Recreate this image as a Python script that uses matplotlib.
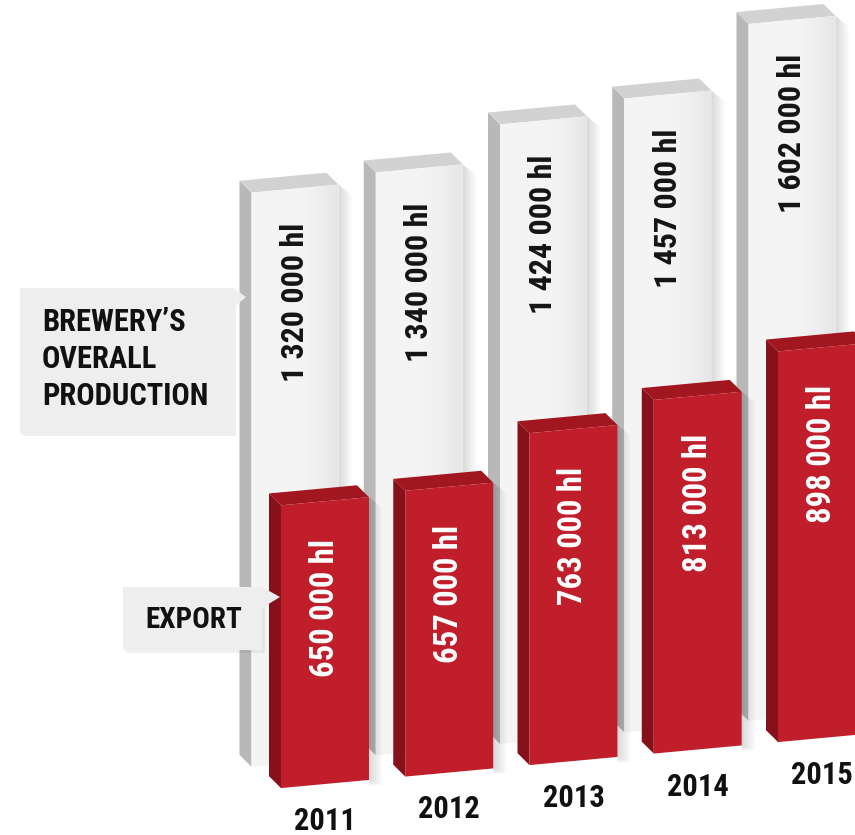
import matplotlib.pyplot as plt
import matplotlib.transforms as mtransforms
from matplotlib import font_manager as fm
from matplotlib.patches import Polygon, FancyBboxPatch
import numpy as np

# data
years = ['2011', '2012', '2013', '2014', '2015']
production = [1320000, 1340000, 1424000, 1457000, 1602000]
export = [650000, 657000, 763000, 813000, 898000]
production_labels = ['1 320 000 hl', '1 340 000 hl', '1 424 000 hl', '1 457 000 hl', '1 602 000 hl']
export_labels = ['650 000 hl', '657 000 hl', '763 000 hl', '813 000 hl', '898 000 hl']

# layout (pixels)
W, H = 855, 835
STEP = 124.25      # px between bars
X0 = 325           # px centre of first red bar
PX_PER_HL = 0.000435
BASE0 = 51         # px from the bottom to the first base


# narrowest bold font that is installed
def pick_font():
    for fam in ['Liberation Sans Narrow', 'Roboto Condensed', 'DejaVu Sans']:
        try:
            f = fm.findfont(fm.FontProperties(family=fam, weight='bold', stretch='condensed'),
                            fallback_to_default=False)
        except ValueError:
            continue
        if fam != 'DejaVu Sans' or 'Condensed' in f:
            return fam, 1.0
    return 'Roboto', 0.86


FAM, SCALE = pick_font()
FONT = [FAM, 'DejaVu Sans']

fig = plt.figure(figsize=(W / 100, H / 100), dpi=100)
ax = fig.add_axes([0, 0, 1, 1])
ax.set_xlim(-X0 / STEP, (W - X0) / STEP)
ax.set_ylim(-BASE0 / PX_PER_HL, (H - BASE0) / PX_PER_HL)
ax.axis('off')


def dx(p):
    return p / STEP


def dy(p):
    return p / PX_PER_HL


# baseline rises to the right (perspective)
shear = mtransforms.Affine2D().from_values(1, dy(11.5), 0, 1, 0, 0)
tr = shear + ax.transData


def draw_bar(xc, w, base, h, front, side, top, z, right_shade=None):
    ox, oy = dx(-12), dy(13)
    x0, x1 = xc - w / 2, xc + w / 2
    y0, y1 = base, base + h
    # soft shadow on the right
    for k in range(1, 7):
        ax.add_patch(Polygon([(x1, y0 - dy(k)), (x1 + dx(2.2 * k), y0 - dy(k)),
                              (x1 + dx(2.2 * k), y1 - dy(2 * k)), (x1, y1)],
                             fc='black', ec='none', alpha=0.025, transform=tr, zorder=z))
    ax.add_patch(Polygon([(x0, y0), (x0, y1), (x0 + ox, y1 + oy), (x0 + ox, y0 + oy)],
                         fc=side, ec='none', transform=tr, zorder=z + 1))
    ax.add_patch(Polygon([(x0, y1), (x1, y1), (x1 + ox, y1 + oy), (x0 + ox, y1 + oy)],
                         fc=top, ec='none', transform=tr, zorder=z + 1))
    ax.bar(xc, h, w, base, color=front, transform=tr, zorder=z + 2)
    if right_shade is not None:
        n = 14
        for j in range(n):
            a = (j / (n - 1)) ** 2 * 0.13
            xs = x0 + w * (0.45 + 0.55 * j / n)
            ax.add_patch(Polygon([(xs, y0), (xs + w * 0.55 / n, y0), (xs + w * 0.55 / n, y1), (xs, y1)],
                                 fc=right_shade, ec='none', alpha=a, transform=tr, zorder=z + 2))


idx = np.arange(len(years))
txt = dict(fontweight='bold', fontstretch='condensed', family=FONT)

# overall production (white bars, behind)
for i in idx:
    xc = i + dx(-30)
    draw_bar(xc, dx(87), dy(24), production[i], '#f4f4f4', '#b8b8b8', '#d2d2d2', 1, right_shade='#888888')
    ax.text(xc, dy(24) + production[i] - dy(34), production_labels[i], rotation=90,
            ha='center', va='top', fontsize=23 * SCALE, color='#141414',
            transform=tr, zorder=4, **txt)

# export (red bars, front)
for i in idx:
    draw_bar(i, dx(88), 0, export[i], '#bf1e2a', '#86111a', '#a2161f', 5)
    ax.text(i, export[i] - dy(38), export_labels[i], rotation=90,
            ha='center', va='top', fontsize=23.5 * SCALE, color='white',
            transform=tr, zorder=9, **txt)
    ax.text(i, -dy(37), years[i], ha='center', va='center', fontsize=22 * SCALE,
            color='#111111', transform=tr, zorder=9, **txt)


# callouts (pixel placement)
def fx(p):
    return p / W


def fy(p):
    return 1 - p / H


def callout(x0, y0, x1, y1, tip, tri):
    ax.add_patch(FancyBboxPatch((fx(x0) + 0.003, fy(y1) - 0.004), fx(x1 - x0), fy(y0) - fy(y1),
                                boxstyle='square,pad=0', fc='black', ec='none', alpha=0.06,
                                transform=ax.transAxes, zorder=10))
    ax.add_patch(FancyBboxPatch((fx(x0), fy(y1)), fx(x1 - x0), fy(y0) - fy(y1),
                                boxstyle='square,pad=0', fc='#eeeeee', ec='none',
                                transform=ax.transAxes, zorder=11))
    ax.add_patch(Polygon([(fx(x1), fy(tri[0])), (fx(tip[0]), fy(tip[1])), (fx(x1), fy(tri[1]))],
                         fc='#eeeeee', ec='none', transform=ax.transAxes, zorder=11))


callout(20, 288, 233, 433, (246, 297), (288, 308))
ax.text(fx(42), fy(359), 'BREWERY\u2019S\nOVERALL\nPRODUCTION', ha='left', va='center',
        fontsize=22 * SCALE, color='#111111', linespacing=1.3,
        transform=ax.transAxes, zorder=12, **txt)

callout(123, 587, 262, 650, (280, 597), (587, 608))
ax.text(fx(145), fy(620), 'EXPORT', ha='left', va='center', fontsize=21 * SCALE,
        color='#111111', transform=ax.transAxes, zorder=12, **txt)

fig.savefig('out.png', dpi=100)
